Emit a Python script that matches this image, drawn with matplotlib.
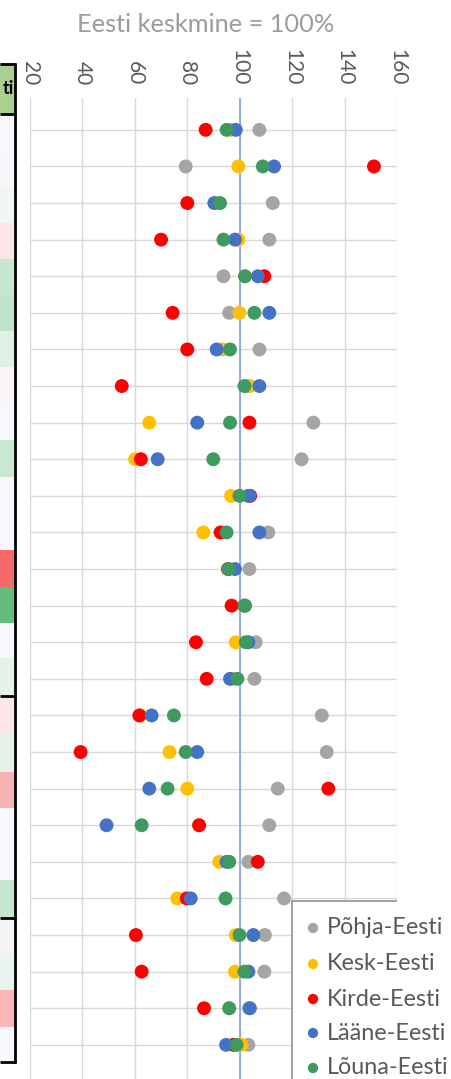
import matplotlib
matplotlib.use("Agg")
import matplotlib.pyplot as plt
from matplotlib.patches import Rectangle
import numpy as np

# ---------------- data ----------------
series = ["Põhja-Eesti", "Kesk-Eesti", "Kirde-Eesti", "Lääne-Eesti", "Lõuna-Eesti"]
colors = ["#A5A5A5", "#FFC000", "#FF0000", "#4472C4", "#3E9A5E"]
rows = list(range(1, 27))

pohja = [107.5, 79.4, 112.6, 111.3, 93.8, 96.0, 107.5, 103.0, 128.1, 123.6, 103.0, 110.9, 103.7,
         102.0, 106.1, 105.6, 131.3, 133.2, 114.5, 111.3, 103.3, 116.9, 109.6, 109.4, 103.5, 103.3]
kesk = [96.5, 99.5, 91.5, 99.5, 102.0, 99.9, 93.5, 103.9, 65.5, 60.1, 96.7, 86.1, 96.0,
        101.5, 98.5, 97.5, 62.0, 73.2, 80.0, 84.5, 92.2, 76.2, 98.5, 98.2, 96.0, 100.7]
kirde = [87.0, 151.2, 80.0, 70.0, 109.4, 74.4, 80.0, 55.0, 103.7, 62.3, 104.0, 92.7, 95.5,
         96.9, 83.3, 87.4, 61.7, 39.3, 133.8, 84.5, 106.9, 79.8, 60.4, 62.6, 86.4, 97.6]
laane = [98.5, 113.1, 90.3, 98.2, 106.9, 111.3, 91.2, 107.5, 83.8, 68.7, 103.7, 107.5, 98.2,
         101.8, 103.3, 96.3, 66.4, 83.8, 65.5, 49.2, 95.0, 81.3, 105.2, 103.3, 103.9, 94.8]
louna = [95.0, 108.8, 92.5, 93.8, 102.0, 105.6, 96.3, 101.8, 96.3, 89.9, 99.9, 95.0, 95.7,
         102.0, 102.3, 99.1, 74.9, 79.4, 72.5, 62.6, 96.0, 94.6, 99.9, 101.8, 96.0, 98.8]
values = [pohja, kesk, kirde, laane, louna]

xticks = [20, 40, 60, 80, 100, 120, 140, 160]
title = "Eesti keskmine = 100%"

# side table (partly visible) cell colours
table_header = "ti"
table_edges = [115, 151, 187, 223, 259, 295, 331, 367, 403, 440, 477, 513, 550, 587, 623, 658,
               696, 733, 772, 808, 844, 880, 918, 953, 990, 1027, 1062]
table_colors = ["#F8F8FC", "#F7F7FB", "#EEF7F1", "#FCE4E7", "#C8E7D1", "#C0E4CB", "#DFF0E5",
                "#FBF4F8", "#F8F8FC", "#C9E8D2", "#F8F8FC", "#F8F8FC", "#F8696B", "#63BE7B",
                "#F8F8FC", "#E6F3EA", "#FCE6E8", "#E4F2E8", "#F9B3B5", "#F8F8FC", "#F8F8FC",
                "#C5E5CE", "#F7F4F8", "#EAF4EE", "#F9B7B9", "#F8F8FC"]

# ---------------- figure ----------------
W, H = 452, 1079
plt.rcParams["font.family"] = ["Lato", "DejaVu Sans"]
fig = plt.figure(figsize=(W / 100, H / 100), dpi=100)

# background overlay in pixel coordinates (table)
bg = fig.add_axes([0, 0, 1, 1], zorder=0)
bg.set_xlim(0, W)
bg.set_ylim(H, 0)
bg.axis("off")
for i, c in enumerate(table_colors):
    bg.add_patch(Rectangle((0, table_edges[i]), 15, table_edges[i + 1] - table_edges[i],
                           facecolor=c, edgecolor="none"))
bg.add_patch(Rectangle((0, 63), 15, 51, facecolor="#A9D08E", edgecolor="none"))
bg.text(14, 89, table_header, ha="right", va="center", fontsize=13, fontweight="bold", color="black")
for y in [63.5, 114, 696, 918, 1062]:
    bg.plot([0, 16.5], [y, y], color="black", lw=2.0, solid_capstyle="butt")
bg.plot([15.5, 15.5], [62.5, 1063], color="black", lw=2.0, solid_capstyle="butt")

# main chart axes
top_px = 98
ymin_d, ymax_d = 0.13, 27.5
row_px = 36.6
h_px = (ymax_d - ymin_d) * row_px
ax = fig.add_axes([30 / W, 1 - (top_px + h_px) / H, 367 / W, h_px / H], zorder=1)
ax.set_xlim(20, 160)
ax.set_ylim(ymax_d, ymin_d)
ax.set_facecolor("none")
for s in ax.spines.values():
    s.set_visible(False)
ax.set_yticks(rows)
ax.set_xticks(xticks)
ax.grid(True, color="#D9D9D9", lw=1.0, zorder=0)
ax.set_axisbelow(True)
ax.tick_params(axis="y", length=0, labelleft=False)
ax.xaxis.tick_top()
ax.tick_params(axis="x", length=0, pad=9, labelsize=15, labelcolor="#595959", labelrotation=-90)
ax.axvline(100, color="#8EA9D8", lw=1.3, zorder=1.5)

for vals, col in zip(values, colors):
    ax.scatter(vals, rows, s=100, color=col, edgecolors="none", zorder=3)

fig.text(206 / W, 1 - 24 / H, title, ha="center", va="center", fontsize=18.3, color="#9C9C9C")

# legend overlay
ov = fig.add_axes([0, 0, 1, 1], zorder=5)
ov.set_xlim(0, W)
ov.set_ylim(H, 0)
ov.axis("off")
ov.add_patch(Rectangle((292, 900), 200, 200, facecolor="white", edgecolor="none"))
ov.plot([292, 397.5], [900.5, 900.5], color="#999999", lw=1.3, solid_capstyle="butt")
ov.plot([292.5, 292.5], [900, 1090], color="#999999", lw=1.3, solid_capstyle="butt")
leg_y = [928, 964, 999, 1033, 1068]
for name, col, y in zip(series, colors, leg_y):
    ov.scatter([313], [y], s=55, color=col, edgecolors="none")
    ov.text(327, y, name, ha="left", va="center", fontsize=16.8, color="#595959")

fig.savefig("out.png", dpi=100)
